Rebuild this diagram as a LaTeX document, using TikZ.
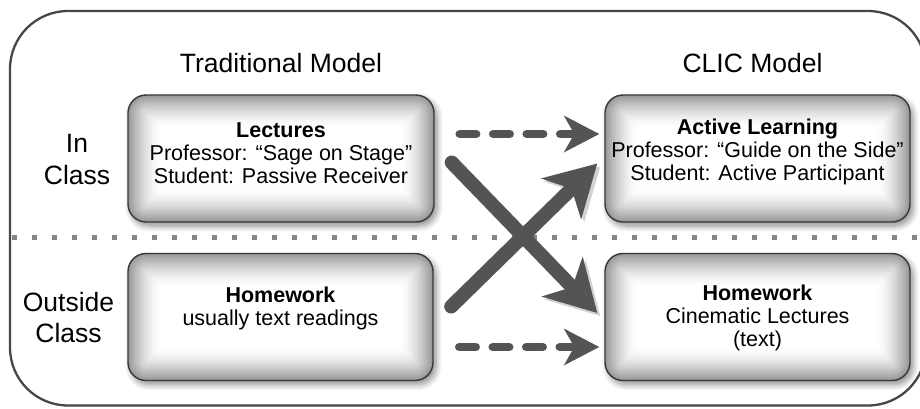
\documentclass[tikz,border=0pt]{standalone}
\usepackage{fontspec}
\setmainfont{Liberation Sans}
\usetikzlibrary{arrows.meta,shadows.blur,calc}
\begin{document}
\begin{tikzpicture}[x=1pt,y=-1pt,
  boxnode/.style={draw=black!78, line width=1.4pt, rounded corners=18pt,
    minimum height=127pt, inner sep=0pt, fill=black!40,
    blur shadow={shadow xshift=3pt, shadow yshift=-4pt, shadow blur radius=6pt,
      shadow blur steps=8, shadow opacity=45},
    path picture={
      \foreach \i in {1,...,18}{
        \pgfmathsetmacro\dk{40*(1-\i/18)^1.6}
        \pgfmathsetmacro\rr{max(18-1.8*\i,3)}
        \pgfmathsetmacro\dd{1.8*\i}
        \fill[black!\dk, rounded corners=\rr pt]
          ([shift={(\dd pt,-\dd pt)}]path picture bounding box.north west) rectangle
          ([shift={(-\dd pt,\dd pt)}]path picture bounding box.south east);
      }}},
  boxtext/.style={font=\fontsize{21.5}{23}\selectfont, align=center, inner sep=0pt},
  headtext/.style={font=\fontsize{26.5}{31.5}\selectfont, align=center, inner sep=0pt},
  dasharrow/.style={draw=black!67, line width=8.5pt, line cap=round,
    dash pattern=on 16.5pt off 17pt,
    -{Stealth[length=35pt, width=36pt, inset=10pt]}},
  crossarrow/.style={draw=black!67, line width=14pt, line cap=round,
    -{Stealth[length=50pt, width=56pt, inset=14pt]},
    preaction={draw=black, opacity=0.18, transform canvas={shift={(3pt,-3pt)}}}}
]
\useasboundingbox (0,0) rectangle (920,408);

% outer frame
\draw[line width=2.3pt, black!72, rounded corners=58pt] (10,11) rectangle (926,405.5);

% separator
\draw[black!48, line width=5pt, dash pattern=on 5pt off 15pt] (12,237) -- (920,237);

% headers
\node[headtext] (h1) at (281,63) {Traditional Model};
\node[headtext] (h2) at (752.5,63) {CLIC Model};
\node[headtext] (r1) at (77,159.3) {In\\Class};
\node[headtext] (r2) at (68.5,317.6) {Outside\\Class};

% boxes
\node[boxnode, minimum width=306pt] (TL) at (281,158.5) {};
\node[boxnode, minimum width=305pt] (TR) at (757.5,158.5) {};
\node[boxnode, minimum width=305pt] (BL) at (280.5,317) {};
\node[boxnode, minimum width=305pt] (BR) at (757.5,317) {};

\node[boxtext] (TLt) at (281,153) {\textbf{Lectures}\\Professor: “Sage on Stage”\\Student: Passive Receiver};
\node[boxtext] (TRt) at (757.5,151.5) {\textbf{Active Learning}\\Professor: “Guide on the Side”\\Student: Active Participant};
\node[boxtext] (BLt) at (280.5,308.5) {\textbf{Homework}\\usually text readings};
\node[boxtext] (BRt) at (757.5,318) {\textbf{Homework}\\Cinematic Lectures\\(text)};

% arrow anchor points
\coordinate (d1s) at ($(TL.east)+(25,-24.5)$);
\coordinate (d1e) at ($(TR.west)+(-5,-24.5)$);
\coordinate (d2s) at ($(BL.east)+(25.5,30)$);
\coordinate (d2e) at ($(BR.west)+(-5,30)$);
\coordinate (c1s) at ($(TL.east)+(17,4)$);
\coordinate (c1e) at ($(BR.west)+(-7,-4)$);
\coordinate (c2s) at ($(BL.east)+(17.5,-10.5)$);
\coordinate (c2e) at ($(TR.west)+(-7,5)$);

\draw[dasharrow] (d1s) -- (d1e);
\draw[dasharrow] (d2s) -- (d2e);
\draw[crossarrow] (c2s) -- (c2e);
\draw[crossarrow] (c1s) -- (c1e);
\end{tikzpicture}
\end{document}
